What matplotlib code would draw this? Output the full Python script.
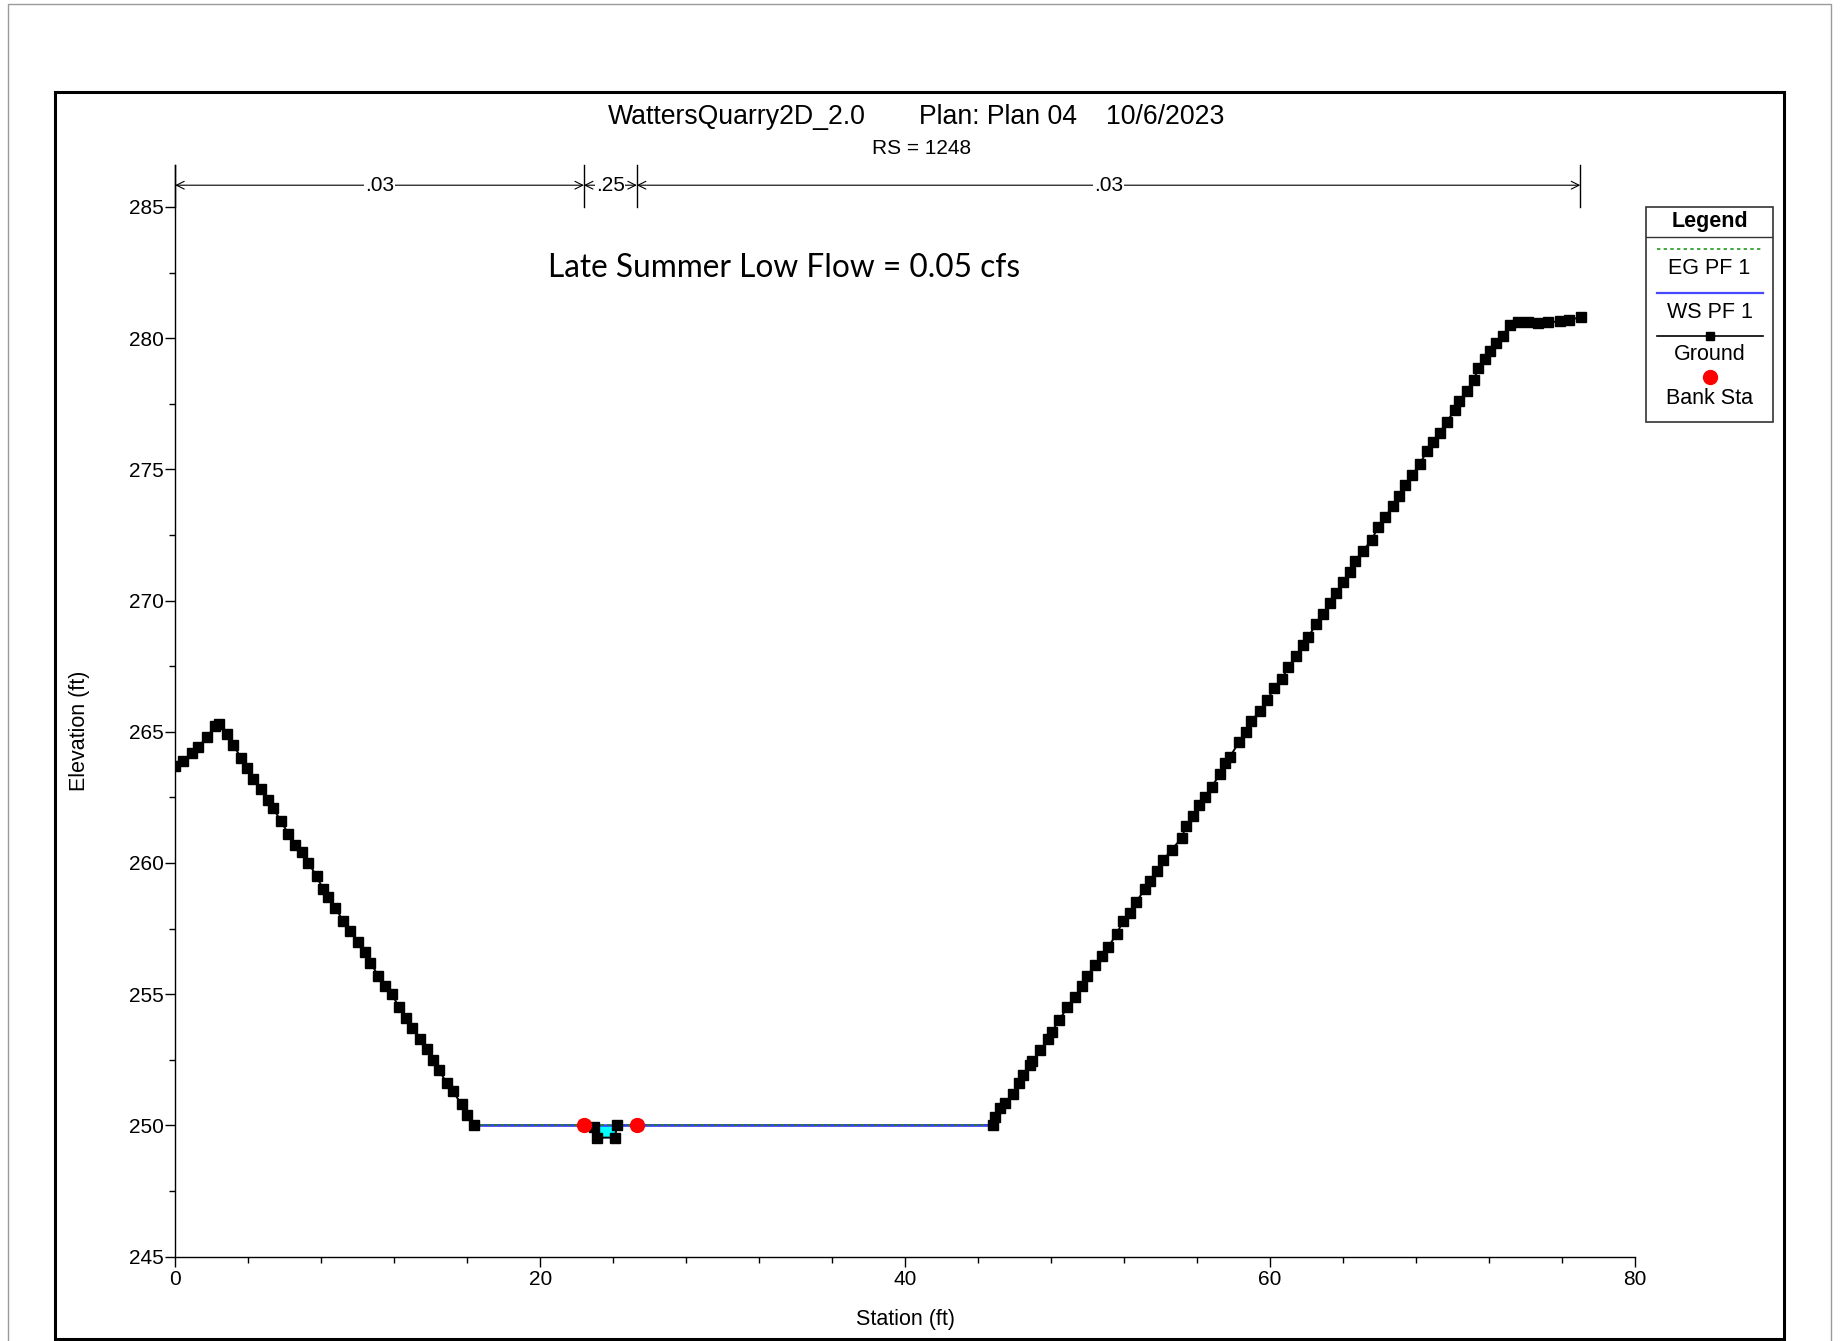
import numpy as np
import matplotlib
matplotlib.use('Agg')
import matplotlib.pyplot as plt
from matplotlib.patches import Rectangle
from matplotlib.ticker import MultipleLocator

# ---------------- data ----------------
title_project = "WattersQuarry2D_2.0"
title_plan = "Plan: Plan 04"
title_date = "10/6/2023"
river_station = "RS = 1248"
note_text = "Late Summer Low Flow = 0.05 cfs"

ground_sta = [
    0.0, 0.45, 0.9, 1.27, 1.72, 2.18, 2.42, 2.82, 3.19, 3.6, 3.92, 4.28, 4.7, 5.07,
    5.34, 5.8, 6.2, 6.56, 6.93, 7.3, 7.75, 8.1, 8.4, 8.76, 9.2, 9.58, 10.03, 10.4,
    10.7, 11.13, 11.5, 11.86, 12.28, 12.65, 13.0, 13.4, 13.78, 14.14, 14.47, 14.88,
    15.2, 15.7, 16.0, 16.37,
    22.4, 22.96, 23.12, 24.1, 24.21, 25.3,
    44.82, 44.92, 45.2, 45.47, 45.92, 46.25, 46.47, 46.84, 46.98, 47.42, 47.84, 48.03,
    48.45, 48.88, 49.3, 49.67, 49.98, 50.4, 50.77, 51.13, 51.6, 51.95, 52.3, 52.65,
    53.14, 53.4, 53.78, 54.14, 54.6, 55.15, 55.39, 55.76, 56.12, 56.43, 56.8, 57.26,
    57.53, 57.8, 58.3, 58.7, 58.98, 59.44, 59.84, 60.22, 60.63, 61.0, 61.42, 61.82,
    62.1, 62.5, 62.9, 63.31, 63.64, 64.0, 64.4, 64.65, 65.1, 65.56, 65.92, 66.3,
    66.75, 67.08, 67.4, 67.8, 68.2, 68.6, 68.94, 69.3, 69.67, 70.13, 70.37, 70.77,
    71.17, 71.4, 71.77, 72.08, 72.37, 72.74, 73.14, 73.6, 74.15, 74.7, 75.25, 75.9,
    76.4, 77.05,
]
ground_elev = [
    263.7, 263.9, 264.2, 264.4, 264.8, 265.2, 265.3, 264.9, 264.5, 264.0, 263.6, 263.2,
    262.8, 262.4, 262.1, 261.6, 261.1, 260.7, 260.4, 260.0, 259.5, 259.0, 258.7, 258.3,
    257.8, 257.4, 257.0, 256.6, 256.2, 255.7, 255.3, 255.0, 254.5, 254.1, 253.7, 253.3,
    252.9, 252.5, 252.1, 251.6, 251.3, 250.8, 250.4, 250.0,
    250.0, 249.95, 249.53, 249.53, 250.0, 250.0,
    250.0, 250.3, 250.65, 250.84, 251.2, 251.6, 251.9, 252.3, 252.46, 252.87, 253.3,
    253.57, 254.0, 254.5, 254.9, 255.3, 255.7, 256.1, 256.45, 256.8, 257.3, 257.8,
    258.1, 258.5, 259.0, 259.3, 259.7, 260.1, 260.5, 260.94, 261.4, 261.8, 262.2,
    262.5, 262.9, 263.4, 263.8, 264.05, 264.6, 265.0, 265.4, 265.8, 266.2, 266.65,
    267.0, 267.45, 267.9, 268.3, 268.6, 269.1, 269.5, 269.9, 270.3, 270.7, 271.1,
    271.5, 271.9, 272.3, 272.8, 273.2, 273.6, 274.0, 274.4, 274.8, 275.2, 275.7,
    276.05, 276.4, 276.8, 277.26, 277.6, 278.0, 278.4, 278.85, 279.2, 279.5, 279.8,
    280.1, 280.5, 280.6, 280.6, 280.58, 280.6, 280.65, 280.7, 280.8,
]
bank_sta = [22.4, 25.3]
ws_elev = 250.0
eg_elev = 250.0
n_sta = [0.0, 22.4, 25.3, 77.0]
n_values = [".03", ".25", ".03"]
x_ticks = [0, 20, 40, 60, 80]
y_ticks = [245, 250, 255, 260, 265, 270, 275, 280, 285]

# ---------------- layout ----------------
W, H = 1843, 1341
plt.rcParams['font.family'] = ['Liberation Sans', 'DejaVu Sans']
fig = plt.figure(figsize=(W / 100, H / 100), dpi=100)
fig.patch.set_facecolor('white')


def fx(px):
    return px / W


def fy(py):
    return 1 - py / H


ax = fig.add_axes([fx(175.2), fy(1256.5), fx(1635) - fx(175.2), fy(165) - fy(1256.5)])
ax.set_xlim(0, 80)
ax.set_ylim(245, 286.6)
for s in ['top', 'right']:
    ax.spines[s].set_visible(False)
for s in ['left', 'bottom']:
    ax.spines[s].set_linewidth(1.0)
ax.set_xticks(x_ticks)
ax.set_yticks(y_ticks)
ax.xaxis.set_minor_locator(MultipleLocator(4))
ax.yaxis.set_minor_locator(MultipleLocator(2.5))
ax.tick_params(which='major', direction='out', length=7, width=1, labelsize=15)
ax.tick_params(which='minor', direction='out', length=4, width=1)
ax.tick_params(axis='y', which='major', pad=1)
ax.tick_params(axis='x', which='major', pad=3)

sta = np.array(ground_sta)
elev = np.array(ground_elev)

# water fill
ax.fill_between(sta, elev, ws_elev, where=elev < ws_elev, interpolate=True,
                color='#00ffff', lw=0, zorder=2)

# ground line
ax.plot(sta, elev, color='black', lw=1.4, zorder=3)

# water surface extent
wet = np.where(elev <= ws_elev)[0]
x_ws = [sta[wet.min()], sta[wet.max()]]
ax.plot(x_ws, [ws_elev, ws_elev], color='#3a3aff', lw=1.8, zorder=4)
ax.plot(x_ws, [eg_elev, eg_elev], color='#1f8a1f', lw=1.2, ls=(0, (2, 2)), zorder=5)

# ground markers
ax.plot(sta, elev, ls='none', marker='s', ms=7.5, color='black', zorder=6)

# bank stations
ax.plot(bank_sta, np.interp(bank_sta, sta, elev), ls='none', marker='o', ms=10,
        color='#ff0000', zorder=7)

# Manning's n
y_arrow = 285.83
for s in n_sta:
    ax.plot([s, s], [285.0, 286.6], color='black', lw=1.0, clip_on=False, zorder=3)
for i, lab in enumerate(n_values):
    a, b = n_sta[i], n_sta[i + 1]
    ax.annotate('', xy=(a, y_arrow), xytext=(b, y_arrow),
                arrowprops=dict(arrowstyle='<->', color='black', lw=0.8,
                                shrinkA=0, shrinkB=0, mutation_scale=14),
                annotation_clip=False)
    ax.text((a + b) / 2, y_arrow, lab, ha='center', va='center', fontsize=15,
            bbox=dict(facecolor='white', edgecolor='none', pad=0.5), zorder=8)

# titles
fig.text(fx(607.7), fy(124), title_project, fontsize=19.2, va='baseline', ha='left')
fig.text(fx(919), fy(124), title_plan, fontsize=19.2, va='baseline', ha='left')
fig.text(fx(1224), fy(124), title_date, fontsize=19.2, va='baseline', ha='right')
fig.text(fx(922), fy(154), river_station, fontsize=15, va='baseline', ha='center')
fig.text(fx(784), fy(268), note_text, fontsize=22.8, va='center', ha='center',
         family=['Lato', 'DejaVu Sans'])

# axis labels
fig.text(fx(79), fy(731), 'Elevation (ft)', rotation=90, fontsize=15.5,
         va='center', ha='center')
fig.text(fx(905), fy(1320), 'Station (ft)', fontsize=15.5, va='center', ha='center')

# frames
fig.add_artist(Rectangle((fx(55), fy(1339)), fx(1784) - fx(55), fy(92) - fy(1339),
                         fill=False, lw=2.2, ec='black', transform=fig.transFigure))
fig.add_artist(Rectangle((fx(8), -0.05), fx(1831) - fx(8), fy(4) + 0.05,
                         fill=False, lw=1.0, ec='#9a9a9a', transform=fig.transFigure))

# legend
lg = fig.add_axes([fx(1646), fy(422), fx(1773) - fx(1646), fy(207) - fy(422)])
lg.set_xlim(0, 127)
lg.set_ylim(215, 0)
lg.axis('off')
lg.add_patch(Rectangle((0, 0), 127, 215, fill=False, lw=1.2, ec='#333333', clip_on=False))
lg.plot([0, 127], [30, 30], color='#333333', lw=1.0)
lg.text(63.5, 14, 'Legend', fontsize=15.5, fontweight='bold', ha='center', va='center')
lg.plot([11, 117], [42, 42], color='#1f9a1f', lw=1.2, ls=(0, (2, 2)))
lg.text(63.5, 62, 'EG PF 1', fontsize=15.5, ha='center', va='center')
lg.plot([11, 117], [86, 86], color='#4848ff', lw=1.6)
lg.text(63.5, 105, 'WS PF 1', fontsize=15.5, ha='center', va='center')
lg.plot([11, 117], [129, 129], color='black', lw=1.2)
lg.plot([63.5], [129], marker='s', ms=6, color='black')
lg.text(63.5, 148, 'Ground', fontsize=15.5, ha='center', va='center')
lg.plot([63.5], [170], marker='o', ms=10, color='#ff0000')
lg.text(63.5, 191, 'Bank Sta', fontsize=15.5, ha='center', va='center')

fig.savefig('out.png', dpi=100, facecolor='white')
